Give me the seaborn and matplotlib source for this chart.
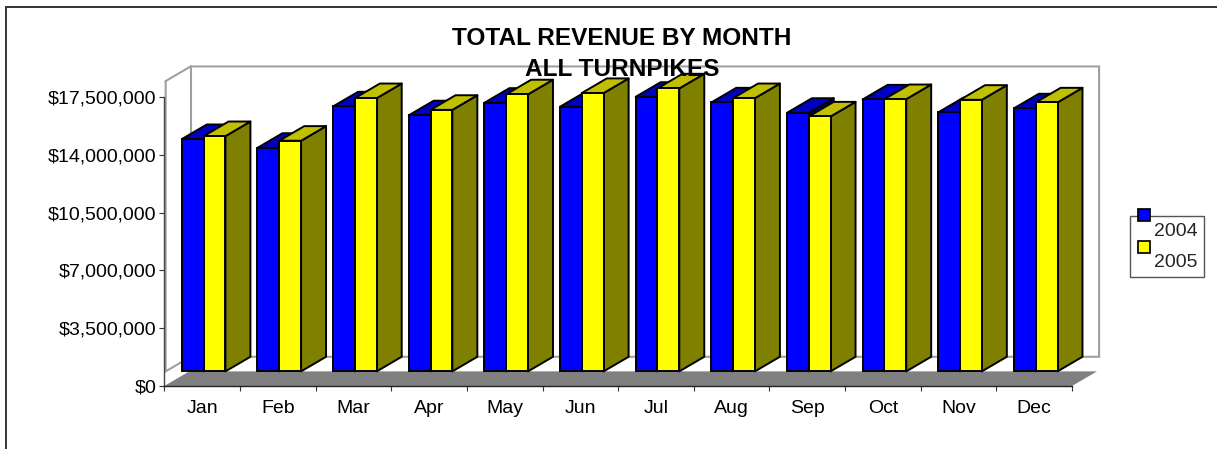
import numpy as np
import pandas as pd
import seaborn as sns
import matplotlib.pyplot as plt
from matplotlib.legend_handler import HandlerPatch
from matplotlib.lines import Line2D
from matplotlib.patches import Patch, Polygon, Rectangle
from matplotlib.ticker import FuncFormatter

months = ["Jan", "Feb", "Mar", "Apr", "May", "Jun", "Jul", "Aug", "Sep", "Oct", "Nov", "Dec"]
rev_2004 = [14.07, 13.54, 16.05, 15.51, 16.27, 16.03, 16.63, 16.29, 15.66, 16.47, 15.69, 15.93]
rev_2005 = [14.25, 13.97, 16.55, 15.84, 16.78, 16.86, 17.14, 16.55, 15.44, 16.49, 16.45, 16.29]
years = ["2004", "2005"]
y_ticks = [0, 3500000, 7000000, 10500000, 14000000, 17500000]

df = pd.DataFrame({
    "month": months * 2,
    "year": [years[0]] * 12 + [years[1]] * 12,
    "revenue": [v * 1e6 for v in rev_2004 + rev_2005],
})

W, H = 1217, 449
# fake 3d offsets, in data units
DEPTH_X = 0.33
DEPTH_Y = 0.885e6
FRONT_X = 0.02
WALL_FRONT = 18.47e6

front = {"2004": "#0000FF", "2005": "#FFFF00"}
top = {"2004": "#0000C0", "2005": "#C0C000"}
side = {"2004": "#000080", "2005": "#808000"}

sns.set_theme(style="white")
plt.rcParams["font.family"] = ["Liberation Sans", "DejaVu Sans"]

fig = plt.figure(figsize=(W / 100, H / 100), dpi=100)
ax = fig.add_axes([164.3 / W, 1 - 386 / H, (1072 - 164.3) / W, 330.2 / H])
ax.patch.set_visible(False)

sns.barplot(data=df, x="month", y="revenue", hue="year", palette=front,
            width=0.577, saturation=1, legend=False, ax=ax,
            edgecolor="black", linewidth=1.4, zorder=4)
ax.set_xlim(-0.5, 11.5)
ax.set_ylim(0, 20e6)
ax.set_xlabel("")
ax.set_ylabel("")


def face(points, color, z):
    ax.add_patch(Polygon(points, closed=True, facecolor=color, edgecolor="black",
                         linewidth=1.4, joinstyle="round", clip_on=False, zorder=z))


# walls and floor
wall_color = "#A0A0A0"
wall_x = [-0.5 + 0.018, -0.5 + 0.018 + DEPTH_X, 11.5 + 0.358]
ax.plot([wall_x[0], wall_x[1], wall_x[2], wall_x[2], wall_x[1], wall_x[0], wall_x[0]],
        [WALL_FRONT, WALL_FRONT + DEPTH_Y, WALL_FRONT + DEPTH_Y, 2 * DEPTH_Y, 2 * DEPTH_Y, DEPTH_Y, WALL_FRONT],
        color=wall_color, lw=1.5, clip_on=False, zorder=1, solid_joinstyle="miter")
ax.plot([wall_x[1], wall_x[1]], [2 * DEPTH_Y, WALL_FRONT + DEPTH_Y],
        color=wall_color, lw=1.5, clip_on=False, zorder=1)
ax.add_patch(Polygon([(-0.5, 0), (-0.5 + DEPTH_X, DEPTH_Y), (11.5 + DEPTH_X, DEPTH_Y), (11.5, 0)],
                     closed=True, facecolor="#808080", edgecolor="none", clip_on=False, zorder=2))

# bars come from seaborn, the depth faces are hung on each bar
for n, (year, container) in enumerate(zip(years, ax.containers)):
    for bar in container:
        bar.set_x(bar.get_x() + FRONT_X)
        bar.set_y(DEPTH_Y)
        bar.set_clip_on(False)
        bar.set_zorder(4 + 2 * n)
        x0, x1 = bar.get_x(), bar.get_x() + bar.get_width()
        y0, y1 = DEPTH_Y, DEPTH_Y + bar.get_height()
        face([(x1, y0), (x1 + DEPTH_X, y0 + DEPTH_Y), (x1 + DEPTH_X, y1 + DEPTH_Y), (x1, y1)], side[year], 3 + 2 * n)
        face([(x0, y1), (x0 + DEPTH_X, y1 + DEPTH_Y), (x1 + DEPTH_X, y1 + DEPTH_Y), (x1, y1)], top[year], 3 + 2 * n)

ax.set_yticks(y_ticks)
ax.yaxis.set_major_formatter(FuncFormatter(lambda v, pos: f"${int(v):,}"))
ax.set_xticks(np.arange(-0.5, 12), minor=True)
ax.tick_params(axis="x", which="major", bottom=False, labelsize=14, pad=4.2, colors="black")
ax.tick_params(axis="x", which="minor", bottom=True, length=3.3, width=0.8, color="#333333")
ax.tick_params(axis="y", left=True, length=3.3, width=0.8, color="#333333", labelsize=14, pad=2.5, labelcolor="black")

sns.despine(ax=ax, top=True, right=True)
ax.spines["left"].set_bounds(0, 17.5e6)
ax.spines["left"].set_color("#444444")
ax.spines["left"].set_linewidth(1)
ax.spines["bottom"].set_color("#222222")
ax.spines["bottom"].set_linewidth(1)


class RaisedSquare(HandlerPatch):
    def create_artists(self, legend, orig_handle, xdescent, ydescent, width, height, fontsize, trans):
        p = Rectangle((1, 10.3), 8.6, 8.6, facecolor=orig_handle.get_facecolor(),
                      edgecolor="black", linewidth=1.25, transform=trans)
        return [p]


handles = [Patch(facecolor=front[y]) for y in years]
leg = ax.legend(handles, years, loc="upper left", bbox_to_anchor=(1130.3 / W, 1 - 215.7 / H),
                bbox_transform=fig.transFigure, borderaxespad=0, borderpad=0.33, fontsize=14,
                handlelength=0.68, handletextpad=0.21, labelspacing=0.7, frameon=True, fancybox=False,
                edgecolor="#555555", facecolor="white", framealpha=1,
                handler_map={Patch: RaisedSquare()})
leg.get_frame().set_linewidth(1)

fig.suptitle("TOTAL REVENUE BY MONTH\nALL TURNPIKES", x=622 / W, y=1 - 27 / H, va="top", ha="center",
             fontsize=17.6, fontweight="bold", color="black", linespacing=1.42)

# chart frame, only top and left are inside the crop
fig.add_artist(Line2D([6 / W, 1], [1 - 6.7 / H, 1 - 6.7 / H], color="#333333", lw=1.4))
fig.add_artist(Line2D([6 / W, 6 / W], [1 - 6.7 / H, 0], color="#333333", lw=1.4))

plt.savefig("out.png", dpi=100)
